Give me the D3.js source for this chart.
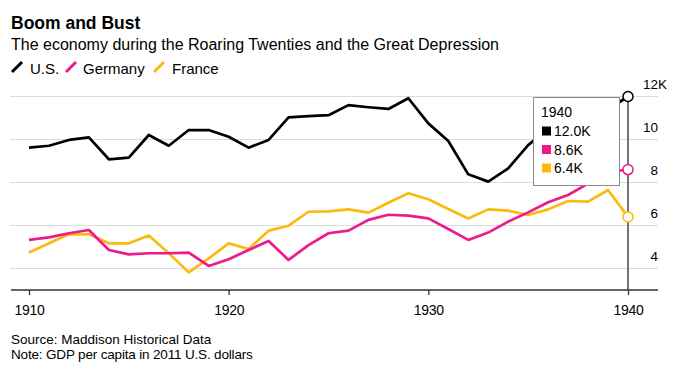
<!DOCTYPE html>
<html>
<head>
<meta charset="utf-8">
<script src="https://cdn.jsdelivr.net/npm/d3@7"></script>
<style>
  html, body { margin: 0; padding: 0; background: #fff; }
  svg { display: block; font-family: "Liberation Sans", Arial, Helvetica, sans-serif; }
</style>
</head>
<body>
<svg id="chart" width="680" height="374"></svg>
<script>
const years = d3.range(1910, 1941);
const usValues = [9.62, 9.71, 9.98, 10.10, 9.08, 9.16, 10.21, 9.71, 10.44, 10.44,
                  10.13, 9.62, 9.98, 11.03, 11.09, 11.13, 11.60, 11.50, 11.42, 11.92,
                  10.75, 9.93, 8.38, 8.04, 8.66, 9.74, 10.5, 11.1, 10.6, 11.4, 12.0];
const germanyValues = [5.33, 5.45, 5.64, 5.79, 4.86, 4.66, 4.71, 4.71, 4.74, 4.12,
                  4.43, 4.86, 5.28, 4.40, 5.09, 5.64, 5.76, 6.26, 6.50, 6.46,
                  6.33, 5.84, 5.33, 5.67, 6.18, 6.61, 7.08, 7.42, 7.95, 8.5, 8.6];
const franceValues = [4.74, 5.17, 5.59, 5.59, 5.17, 5.17, 5.53, 4.71, 3.82, 4.47,
                  5.17, 4.91, 5.76, 5.99, 6.64, 6.66, 6.75, 6.60, 7.06, 7.50,
                  7.22, 6.77, 6.33, 6.75, 6.69, 6.49, 6.75, 7.14, 7.11, 7.65, 6.4];
const seriesNames = ["U.S.", "Germany", "France"];
const seriesColors = ["#000000", "#ee1a8c", "#fcba0f"];
const yTicks = [4, 6, 8, 10, 12];
const xTicks = [1910, 1920, 1930, 1940];
const tooltipYear = 1940;
const tooltipLabels = ["12.0K", "8.6K", "6.4K"];

const series = [usValues, germanyValues, franceValues].map((vals, i) => ({
  name: seriesNames[i], color: seriesColors[i],
  points: years.map((y, j) => ({ year: y, v: vals[j] }))
}));

const svg = d3.select("#chart");
const x = d3.scaleLinear().domain([1910, 1940]).range([29, 628]);
const y = d3.scaleLinear().domain([3, 12]).range([290, 96.5]);

// Title, subtitle
svg.append("text").attr("x", 11).attr("y", 29).attr("font-size", 17.5).attr("font-weight", "bold")
  .attr("fill", "#000").text("Boom and Bust");
svg.append("text").attr("x", 11).attr("y", 49.5).attr("font-size", 16).attr("fill", "#000")
  .text("The economy during the Roaring Twenties and the Great Depression");

// Legend
const legendX = [12, 66, 154];
const legendTextX = [30, 83, 172];
series.forEach((s, i) => {
  svg.append("line").attr("x1", legendX[i]).attr("y1", 72).attr("x2", legendX[i] + 10).attr("y2", 62)
    .attr("stroke", s.color).attr("stroke-width", 3);
  svg.append("text").attr("x", legendTextX[i]).attr("y", 73.5).attr("font-size", 15).attr("fill", "#000")
    .text(s.name);
});

// Grid lines
svg.append("g").selectAll("line").data(yTicks).join("line")
  .attr("x1", 10).attr("x2", 658)
  .attr("y1", d => y(d)).attr("y2", d => y(d))
  .attr("stroke", "#dcdcdc").attr("stroke-width", 1);

// Y labels
svg.append("g").selectAll("text").data(yTicks).join("text")
  .attr("x", 658).attr("y", d => y(d) - 8)
  .attr("text-anchor", "end").attr("font-size", 13.5).attr("fill", "#000")
  .text(d => d);
svg.append("text").attr("x", 658).attr("y", y(12) - 8).attr("font-size", 13.5).attr("fill", "#000").text("K");

// X axis
const xAxis = d3.axisBottom(x).tickValues(xTicks).tickFormat(d3.format("d")).tickSize(5).tickPadding(10);
const gx = svg.append("g").attr("transform", "translate(0,290)").call(xAxis);
gx.select(".domain").remove();
gx.selectAll(".tick line").attr("stroke", "#333").attr("stroke-width", 1.3);
gx.selectAll(".tick text").attr("font-size", 14).attr("fill", "#000")
  .attr("font-family", "'Liberation Sans', Arial, sans-serif").attr("letter-spacing", -0.3);
svg.append("line").attr("x1", 11).attr("x2", 658).attr("y1", 290).attr("y2", 290)
  .attr("stroke", "#333").attr("stroke-width", 1.5);

// Lines
const line = d3.line().x(d => x(d.year)).y(d => y(d.v));
series.slice().reverse().forEach(s => {
  svg.append("path").datum(s.points).attr("d", line)
    .attr("fill", "none").attr("stroke", s.color).attr("stroke-width", 2.7)
    .attr("stroke-linejoin", "round");
});

// Vertical marker
const lastVals = series.map(s => s.points[s.points.length - 1].v);
svg.append("line").attr("x1", x(tooltipYear)).attr("x2", x(tooltipYear))
  .attr("y1", y(lastVals[0])).attr("y2", 290)
  .attr("stroke", "#444").attr("stroke-width", 1.5);

// Tooltip box
const tip = svg.append("g");
tip.append("rect").attr("x", 533.5).attr("y", 97.5).attr("width", 86).attr("height", 88)
  .attr("fill", "#fff").attr("stroke", "#8a8a8a").attr("stroke-width", 1);
tip.append("text").attr("x", 541).attr("y", 117).attr("font-size", 14).attr("fill", "#000").text(tooltipYear);
series.forEach((s, i) => {
  const by = 136 + i * 18.5;
  tip.append("rect").attr("x", 542).attr("y", by - 9.5).attr("width", 9).attr("height", 9).attr("fill", s.color);
  tip.append("text").attr("x", 554).attr("y", by).attr("font-size", 14).attr("fill", "#000").text(tooltipLabels[i]);
});

// Circles
series.forEach((s, i) => {
  svg.append("circle").attr("cx", x(tooltipYear)).attr("cy", y(lastVals[i])).attr("r", 5)
    .attr("fill", "#fff").attr("stroke", s.color).attr("stroke-width", 1.5);
});

// Footer
svg.append("text").attr("x", 11).attr("y", 344).attr("font-size", 13.5)
  .attr("fill", "#000").text("Source: Maddison Historical Data");
svg.append("text").attr("x", 11).attr("y", 359).attr("font-size", 13.5).attr("letter-spacing", -0.17)
  .attr("fill", "#000").text("Note: GDP per capita in 2011 U.S. dollars");
</script>
</body>
</html>
